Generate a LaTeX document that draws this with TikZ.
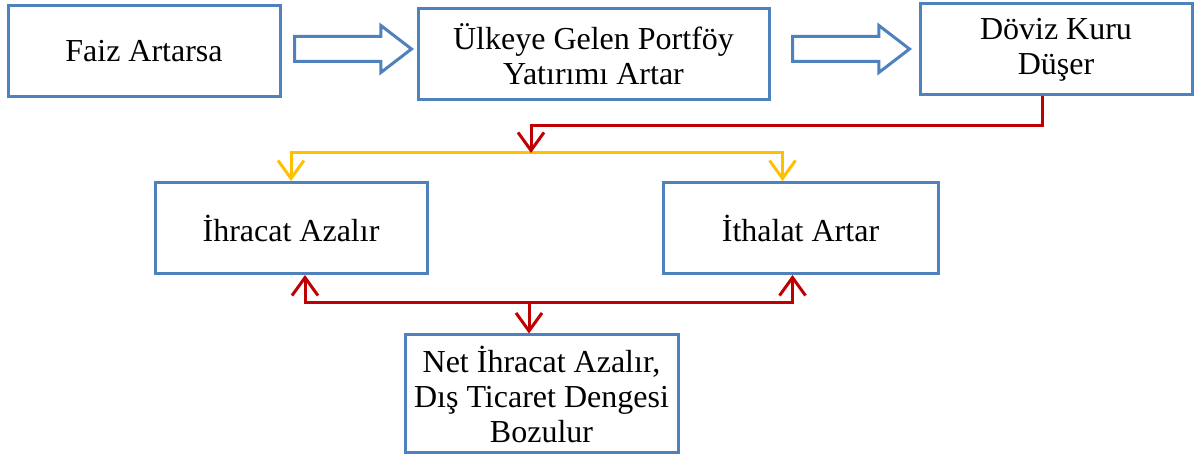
\documentclass[tikz,border=0pt]{standalone}
\usepackage{fontspec}
\setmainfont{Liberation Serif}
\usepackage{xcolor}
\usepackage{tikz}
\usetikzlibrary{calc, shapes.arrows, arrows.meta}
\definecolor{boxblue}{RGB}{79,129,189}
\definecolor{linered}{RGB}{192,0,0}
\definecolor{lineyellow}{RGB}{255,192,0}
\tikzstyle{redarrow}    = [line width=1.5pt,linered,-{Straight Barb[length=9pt,width=13pt]}]
\tikzstyle{yellowarrow} = [line width=1.5pt,lineyellow,-{Straight Barb[length=9pt,width=13pt]}]

\begin{document}
\begin{tikzpicture}[
    x=0.5pt, y=-0.5pt,
    box/.style={draw=boxblue,line width=1.5pt,align=center,inner sep=0pt,
      minimum width=136pt,minimum height=45.5pt,font=\fontsize{16}{17.5}\selectfont},
    hollow/.style={draw=boxblue,line width=1.5pt,single arrow,minimum height=58.5pt,
      inner sep=5.5pt,inner xsep=0pt,single arrow head extend=5.5pt,single arrow tip angle=75,
      anchor=tail},
  ]
  \useasboundingbox (0,0) rectangle (1194,459);
  % top row
  \node[box] (faiz) at (144,51) {Faiz Artarsa};
  \node[box,minimum width=175.5pt] (portfoy) at (593.5,54.5) {Ülkeye Gelen Portföy\\Yatırımı Artar};
  \node[box] (doviz) at (1056,49.5) {Döviz Kuru\\Düşer};
  \node[hollow] (step1) at (293,49) {};
  \node[hollow] (step2) at (791,49) {};
  % middle row
  \node[box] (ihracat) at (291,228) {İhracat Azalır};
  \node[box,minimum width=137.5pt] (ithalat) at (800.5,228) {İthalat Artar};
  % bottom
  \node[box,minimum width=136.5pt,minimum height=59pt] (net) at (541.5,394)
    {Net İhracat Azalır,\\Dış Ticaret Dengesi\\Bozulur};
  \coordinate (split) at (531,153);
  \coordinate (join) at (529,303);
  % connectors
  \draw[yellowarrow] (split) -| (ihracat.north);
  \draw[yellowarrow] (split) -| ([xshift=-9pt]ithalat.north);
  \draw[redarrow] ([xshift=-7pt]doviz.south) -- ++(0,29) -| (split);
  \draw[redarrow] (join) -| ([xshift=7pt]ihracat.south);
  \draw[redarrow] (join) -| ([xshift=-4pt]ithalat.south);
  \draw[redarrow] (join) -- (join |- net.north);
\end{tikzpicture}
\end{document}
